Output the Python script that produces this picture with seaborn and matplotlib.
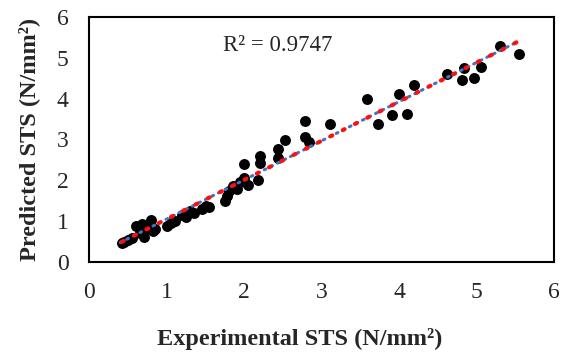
import numpy as np
import pandas as pd
import matplotlib
matplotlib.use("Agg")
import matplotlib.pyplot as plt
import seaborn as sns

# experimental vs predicted STS (N/mm2)
experimental = [0.42, 0.45, 0.50, 0.55, 0.60, 0.65, 0.68, 0.70, 0.72, 0.78, 0.80, 0.82,
                0.85, 1.00, 1.05, 1.10, 1.20, 1.25, 1.30, 1.35, 1.45, 1.50, 1.55, 1.75,
                1.78, 1.80, 1.85, 1.90, 1.95, 2.00, 2.05, 2.00, 2.18, 2.20, 2.20, 2.43,
                2.43, 2.53, 2.79, 2.79, 2.83, 3.11, 3.59, 3.73, 3.91, 4.00, 4.10, 4.19,
                4.61, 4.81, 4.83, 4.96, 5.06, 5.30, 5.54]
predicted = [0.47, 0.50, 0.55, 0.60, 0.88, 0.70, 0.93, 0.62, 0.80, 0.90, 1.03, 0.75,
             0.82, 0.88, 0.95, 1.00, 1.15, 1.10, 1.25, 1.20, 1.30, 1.38, 1.35, 1.50,
             1.62, 1.75, 1.85, 1.78, 1.95, 2.05, 1.88, 2.39, 2.00, 2.43, 2.59, 2.54,
             2.76, 2.98, 3.46, 3.07, 2.93, 3.39, 4.00, 3.39, 3.59, 4.10, 3.63, 4.32,
             4.59, 4.46, 4.75, 4.51, 4.78, 5.29, 5.10]
r2_label = "R² = 0.9747"

df = pd.DataFrame({"Experimental": experimental, "Predicted": predicted})

sns.set_style("white")
plt.rcParams['font.family'] = ['Liberation Serif', 'DejaVu Serif']

fig, ax = plt.subplots(figsize=(5.65, 3.58), dpi=100)
fig.subplots_adjust(left=0.158, right=0.981, top=0.953, bottom=0.268)

sns.scatterplot(data=df, x="Experimental", y="Predicted", color="black",
                s=62, edgecolor="black", linewidth=0, ax=ax, zorder=2)

# linear trend lines
slope, intercept = np.polyfit(df["Experimental"], df["Predicted"], 1)
xs = np.array([df["Experimental"].min(), df["Experimental"].max()])
ax.plot(xs - 0.02, slope * (xs - 0.02) + intercept, color="#4472C4", lw=2.2,
        linestyle=(0, (0.6, 1.8)), dash_capstyle="round", zorder=3)
ax.plot(xs, slope * xs + intercept, color="#FF1010", lw=3.0,
        linestyle=(0, (0.5, 2.8)), dash_capstyle="round", zorder=4)

ax.text(1.72, 5.3, r2_label, fontsize=16.5, va="center", ha="left")

ax.set_xlim(0, 6)
ax.set_ylim(0, 6)
ax.set_xticks(range(7))
ax.set_yticks(range(7))
ax.tick_params(axis="x", length=0, labelsize=17, pad=14)
ax.tick_params(axis="y", length=0, labelsize=17, pad=15)
ax.set_xlabel("Experimental STS (N/mm²)", fontsize=17.5, fontweight="bold", labelpad=20)
ax.set_ylabel("Predicted STS (N/mm²)", fontsize=17.5, fontweight="bold", labelpad=12)
ax.xaxis.set_label_coords(0.452, -0.27)
for sp in ax.spines.values():
    sp.set_color("black")
    sp.set_linewidth(1.5)

fig.savefig("out.png", dpi=100)
